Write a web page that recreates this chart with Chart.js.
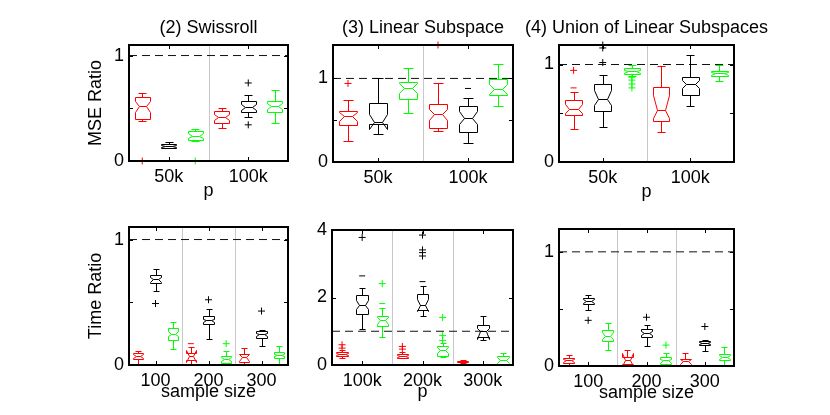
<!DOCTYPE html>
<html>
<head>
<meta charset="utf-8">
<script src="https://cdn.jsdelivr.net/npm/chart.js@4.4.1/dist/chart.umd.min.js"></script>
<style>
  body { margin: 0; background: #fff; }
  #wrap { position: relative; width: 830px; height: 415px; overflow: hidden; }
  canvas { position: absolute; }
</style>
</head>
<body>
<div id="wrap">
  <canvas id="swissMse"></canvas>
  <canvas id="linMse"></canvas>
  <canvas id="unionMse"></canvas>
  <canvas id="swissTime"></canvas>
  <canvas id="linTime"></canvas>
  <canvas id="unionTime"></canvas>
</div>
<script>
// categories / tick labels
const mseP = ["50k", "100k"];
const sampleSizes = ["100", "200", "300"];
const timeP = ["100k", "200k", "300k"];
const ratioTicks = [0, 0.5, 1];
const ratioTickLabels = ["0", "", "1"];
const linTimeTicks = [0, 2, 4];
const linTimeTickLabels = ["0", "2", "4"];

// box = [whiskerLow, q1, notchLow, median, notchHigh, q3, whiskerHigh], one per category
// series order: red, black, green
const swissMseRed   = [[0.375, 0.397, 0.46, 0.517, 0.565, 0.606, 0.644], [0.317, 0.365, 0.39, 0.416, 0.445, 0.47, 0.50]];
const swissMseBlack = [[0.12, 0.125, 0.135, 0.145, 0.155, 0.165, 0.184], [0.42, 0.463, 0.48, 0.511, 0.54, 0.565, 0.622]];
const swissMseGreen = [[0.19, 0.20, 0.219, 0.24, 0.263, 0.28, 0.30], [0.365, 0.46, 0.49, 0.517, 0.55, 0.571, 0.676]];
// outliers = [category, series, value]
const swissMseOut = [[0, 0, 0], [0, 2, 0], [1, 1, 0.74], [1, 1, 0.343]];
const swissMseDash = [];

const linMseRed   = [[0.25, 0.44, 0.49, 0.55, 0.60, 0.61, 0.74], [0.375, 0.41, 0.50, 0.57, 0.64, 0.69, 0.94]];
const linMseBlack = [[0.33, 0.45, 0.39, 0.48, 0.57, 0.71, 1.01], [0.23, 0.355, 0.45, 0.53, 0.61, 0.67, 0.77]];
const linMseGreen = [[0.59, 0.75, 0.83, 0.89, 0.95, 0.96, 1.13], [0.67, 0.80, 0.81, 0.87, 0.93, 0.99, 1.17]];
const linMseOut = [[0, 0, 0.94], [1, 0, 1.4]];
const linMseDash = [[1, 1, 0.88]];

const unionMseRed   = [[0.34, 0.48, 0.505, 0.54, 0.60, 0.635, 0.72], [0.31, 0.42, 0.45, 0.53, 0.69, 0.77, 0.98]];
const unionMseBlack = [[0.355, 0.525, 0.58, 0.65, 0.74, 0.80, 0.89], [0.57, 0.69, 0.76, 0.80, 0.84, 0.87, 1.10]];
const unionMseGreen = [[0.88, 0.90, 0.915, 0.93, 0.945, 0.96, 0.99], [0.83, 0.88, 0.895, 0.91, 0.925, 0.935, 0.99]];
const unionMseOut = [[0, 0, 0.94], [0, 1, 1.2], [0, 1, 1.17], [0, 1, 1.02], [0, 2, 0.87], [0, 2, 0.84], [0, 2, 0.80], [0, 2, 0.76]];
const unionMseDash = [[0, 0, 0.76]];

const swissTimeRed   = [[0, 0.045, 0.055, 0.071, 0.087, 0.092, 0.113], [0, 0.04, 0.02, 0.07, 0.12, 0.092, 0.145], [0, 0.026, 0.035, 0.06, 0.085, 0.087, 0.137]];
const swissTimeBlack = [[0.59, 0.653, 0.665, 0.684, 0.70, 0.716, 0.763], [0.21, 0.324, 0.34, 0.355, 0.37, 0.387, 0.447], [0.153, 0.218, 0.232, 0.245, 0.258, 0.268, 0.28]];
const swissTimeGreen = [[0.124, 0.197, 0.23, 0.25, 0.275, 0.297, 0.342], [0, 0.018, 0.03, 0.047, 0.064, 0.071, 0.11], [0, 0.058, 0.068, 0.079, 0.09, 0.10, 0.153]];
const swissTimeOut = [[0, 1, 0.49], [1, 1, 0.52], [1, 2, 0.17], [2, 1, 0.43]];
const swissTimeDash = [[1, 0, 0.17]];

const linTimeRed   = [[0.22, 0.28, 0.30, 0.33, 0.36, 0.38, 0.43], [0.20, 0.22, 0.245, 0.27, 0.295, 0.32, 0.40], [0.07, 0.09, 0.10, 0.11, 0.12, 0.13, 0.15]];
const linTimeBlack = [[1.06, 1.51, 1.65, 1.79, 1.93, 2.06, 2.29], [1.46, 1.62, 1.60, 1.77, 1.95, 2.09, 2.34], [0.73, 0.83, 0.76, 1.0, 1.1, 1.19, 1.44]];
const linTimeGreen = [[0.83, 1.16, 1.22, 1.34, 1.42, 1.44, 1.69], [0.25, 0.27, 0.36, 0.45, 0.52, 0.55, 0.65], [0, 0, 0.05, 0.15, 0.25, 0.28, 0.35]];
const linTimeOut = [[0, 0, 0.6], [0, 0, 0.5], [0, 1, 3.78], [0, 2, 2.41], [1, 0, 0.55], [1, 0, 0.47],
  [1, 1, 3.85], [1, 1, 3.41], [1, 1, 3.33], [1, 1, 3.23], [1, 2, 1.41], [1, 2, 0.87], [1, 2, 0.73]];
const linTimeDash = [[0, 1, 2.64], [0, 2, 1.82], [1, 1, 2.47]];

const unionTimeRed   = [[0, 0.026, 0.035, 0.05, 0.065, 0.07, 0.093], [0, 0.015, 0, 0.055, 0.11, 0.078, 0.142], [0, 0.012, 0.02, 0.04, 0.06, 0.064, 0.113]];
const unionTimeBlack = [[0.49, 0.544, 0.555, 0.57, 0.585, 0.596, 0.625], [0.174, 0.253, 0.27, 0.29, 0.31, 0.326, 0.363], [0.128, 0.18, 0.19, 0.20, 0.21, 0.218, 0.23]];
const unionTimeGreen = [[0.137, 0.218, 0.24, 0.267, 0.295, 0.317, 0.375], [0, 0.015, 0.03, 0.049, 0.065, 0.078, 0.113], [0, 0.055, 0.065, 0.078, 0.092, 0.108, 0.166]];
const unionTimeOut = [[0, 1, 0.40], [1, 1, 0.427], [1, 2, 0.183], [2, 1, 0.346]];
const unionTimeDash = [];

const seriesColors = ["#ff0000", "#000000", "#00ff00"];
const FONT = "'Liberation Sans', Arial, Helvetica, sans-serif";
Chart.defaults.font.family = FONT;
Chart.defaults.font.size = 18;
Chart.defaults.color = "#000";

const crisp = v => Math.round(v) + 0.5;

function drawBox(ctx, x, y, center, half, b, color) {
  const [lo, q1, nlo, med, nhi, q3, hi] = b;
  const xl = crisp(x.getPixelForValue(center - half));
  const xr = crisp(x.getPixelForValue(center + half));
  const xc = crisp(x.getPixelForValue(center));
  const inset = Math.round((xr - xl) / 4);
  const py = v => crisp(y.getPixelForValue(v));
  ctx.strokeStyle = color;
  ctx.lineWidth = 1;
  ctx.beginPath();
  ctx.moveTo(xl, py(q1));
  ctx.lineTo(xl, py(nlo));
  ctx.lineTo(xl + inset, py(med));
  ctx.lineTo(xl, py(nhi));
  ctx.lineTo(xl, py(q3));
  ctx.lineTo(xr, py(q3));
  ctx.lineTo(xr, py(nhi));
  ctx.lineTo(xr - inset, py(med));
  ctx.lineTo(xr, py(nlo));
  ctx.lineTo(xr, py(q1));
  ctx.closePath();
  ctx.moveTo(xl + inset, py(med));
  ctx.lineTo(xr - inset, py(med));
  // whiskers + caps
  ctx.moveTo(xc, py(q3)); ctx.lineTo(xc, py(hi));
  ctx.moveTo(xc, py(q1)); ctx.lineTo(xc, py(lo));
  ctx.moveTo(xc - inset, py(hi)); ctx.lineTo(xc + inset, py(hi));
  ctx.moveTo(xc - inset, py(lo)); ctx.lineTo(xc + inset, py(lo));
  ctx.stroke();
}

function boxPlugin(series, nCats) {
  return {
    id: "boxes",
    beforeDatasetsDraw(chart) {
      const { ctx, chartArea: a, scales: { x } } = chart;
      ctx.save();
      ctx.strokeStyle = "#c8c8c8";
      ctx.lineWidth = 1;
      ctx.beginPath();
      for (let i = 1; i < nCats; i++) {
        const px = crisp(x.getPixelForValue(i + 0.5));
        ctx.moveTo(px, a.top);
        ctx.lineTo(px, a.bottom);
      }
      ctx.stroke();
      ctx.restore();
    },
    afterDatasetsDraw(chart) {
      const { ctx, scales: { x, y } } = chart;
      ctx.save();
      series.forEach((boxes, s) => {
        boxes.forEach((b, g) => drawBox(ctx, x, y, g + 1 + (s - 1) / 3, 0.095, b, seriesColors[s]));
      });
      ctx.restore();
    },
    afterDraw(chart) {
      const { ctx, chartArea: a, scales: { x, y } } = chart;
      ctx.save();
      ctx.strokeStyle = "#000";
      ctx.lineWidth = 1;
      ctx.beginPath();
      x.ticks.forEach(t => {
        const px = crisp(x.getPixelForValue(t.value));
        ctx.moveTo(px, a.bottom); ctx.lineTo(px, a.bottom - 4);
        ctx.moveTo(px, a.top); ctx.lineTo(px, a.top + 4);
      });
      y.ticks.forEach(t => {
        const py = crisp(y.getPixelForValue(t.value));
        ctx.moveTo(a.left, py); ctx.lineTo(a.left + 4, py);
        ctx.moveTo(a.right, py); ctx.lineTo(a.right - 4, py);
      });
      ctx.stroke();
      ctx.lineWidth = 2;
      ctx.strokeRect(Math.round(a.left), Math.round(a.top), Math.round(a.right - a.left), Math.round(a.bottom - a.top));
      ctx.restore();
    }
  };
}

function outlierSets(list, style, radius) {
  return seriesColors.map((color, s) => ({
    data: list.filter(o => o[1] === s).map(o => ({ x: o[0] + 1 + (s - 1) / 3, y: o[2] })),
    showLine: false,
    pointStyle: style,
    pointRadius: radius,
    pointBorderColor: color,
    pointBackgroundColor: color,
    pointBorderWidth: 1,
    clip: false
  }));
}

function makePanel(id, p) {
  const topRow = !!p.title;
  const cTop = topRow ? 0 : p.top - 30;
  const canvas = document.getElementById(id);
  canvas.width = p.right - p.left + 96;
  canvas.height = p.bottom - cTop + 42;
  canvas.style.left = (p.left - 48) + "px";
  canvas.style.top = cTop + "px";
  const n = p.cats.length;

  new Chart(canvas, {
    type: "line",
    data: {
      datasets: [
        {
          data: [{ x: 0.5, y: 1 }, { x: n + 0.5, y: 1 }],
          borderColor: "#111",
          borderWidth: 1,
          borderDash: [8, 5],
          pointRadius: 0
        },
        ...outlierSets(p.outliers, "cross", 3.5),
        ...outlierSets(p.dashes, "line", 3)
      ]
    },
    options: {
      responsive: false,
      animation: false,
      events: [],
      layout: { padding: { top: topRow ? 0 : 30, right: 0, left: 0, bottom: 0 } },
      plugins: {
        legend: { display: false },
        tooltip: { enabled: false },
        title: {
          display: topRow,
          text: p.title,
          color: "#000",
          font: { size: 18, weight: "normal" },
          padding: { top: p.top - 21.6 - 6, bottom: 6 }
        }
      },
      scales: {
        x: {
          type: "linear",
          min: 0.5,
          max: n + 0.5,
          afterBuildTicks: s => { s.ticks = p.cats.map((c, i) => ({ value: i + 1 })); },
          afterFit: s => { s.height = 42; },
          ticks: { callback: v => p.cats[Math.round(v) - 1] ?? "", autoSkip: false, maxRotation: 0, padding: 5 },
          grid: { display: false, drawTicks: false },
          border: { display: false },
          title: { display: !!p.xTitle, text: p.xTitle, padding: { top: 0, bottom: topRow ? 1 : 4 } }
        },
        y: {
          type: "linear",
          min: 0,
          max: p.yMax,
          afterBuildTicks: s => { s.ticks = p.yTicks.map(v => ({ value: v })); },
          afterFit: s => { s.width = 48; },
          ticks: { callback: v => p.yLabels[p.yTicks.indexOf(v)] ?? "", padding: 5 },
          grid: { display: false, drawTicks: false },
          border: { display: false },
          title: { display: !!p.yTitle, text: p.yTitle, padding: { top: 4, bottom: 4 } }
        },
        // empty right-hand scale, keeps the plot centred under its title
        yRight: {
          type: "linear",
          position: "right",
          min: 0,
          max: p.yMax,
          afterFit: s => { s.width = 48; },
          ticks: { display: false },
          grid: { display: false, drawTicks: false },
          border: { display: false }
        }
      }
    },
    plugins: [boxPlugin(p.boxes, n)]
  });
}

makePanel("swissMse", {
  left: 129, right: 288, top: 45, bottom: 161,
  title: "(2) Swissroll", yTitle: "MSE Ratio", xTitle: "p",
  cats: mseP, yMax: 1.1, yTicks: ratioTicks, yLabels: ratioTickLabels,
  boxes: [swissMseRed, swissMseBlack, swissMseGreen], outliers: swissMseOut, dashes: swissMseDash
});
makePanel("linMse", {
  left: 333, right: 513, top: 45, bottom: 162,
  title: "(3) Linear Subspace", yTitle: "", xTitle: "",
  cats: mseP, yMax: 1.4, yTicks: ratioTicks, yLabels: ratioTickLabels,
  boxes: [linMseRed, linMseBlack, linMseGreen], outliers: linMseOut, dashes: linMseDash
});
makePanel("unionMse", {
  left: 559, right: 734, top: 45, bottom: 162,
  title: "(4) Union of Linear Subspaces", yTitle: "", xTitle: "p",
  cats: mseP, yMax: 1.2, yTicks: ratioTicks, yLabels: ratioTickLabels,
  boxes: [unionMseRed, unionMseBlack, unionMseGreen], outliers: unionMseOut, dashes: unionMseDash
});
makePanel("swissTime", {
  left: 129, right: 288, top: 227, bottom: 365,
  title: "", yTitle: "Time Ratio", xTitle: "sample size",
  cats: sampleSizes, yMax: 1.1, yTicks: ratioTicks, yLabels: ratioTickLabels,
  boxes: [swissTimeRed, swissTimeBlack, swissTimeGreen], outliers: swissTimeOut, dashes: swissTimeDash
});
makePanel("linTime", {
  left: 332, right: 513, top: 230, bottom: 365,
  title: "", yTitle: "", xTitle: "p",
  cats: timeP, yMax: 4, yTicks: linTimeTicks, yLabels: linTimeTickLabels,
  boxes: [linTimeRed, linTimeBlack, linTimeGreen], outliers: linTimeOut, dashes: linTimeDash
});
makePanel("unionTime", {
  left: 559, right: 734, top: 229, bottom: 366,
  title: "", yTitle: "", xTitle: "sample size",
  cats: sampleSizes, yMax: 1.2, yTicks: ratioTicks, yLabels: ratioTickLabels,
  boxes: [unionTimeRed, unionTimeBlack, unionTimeGreen], outliers: unionTimeOut, dashes: unionTimeDash
});
</script>
</body>
</html>
